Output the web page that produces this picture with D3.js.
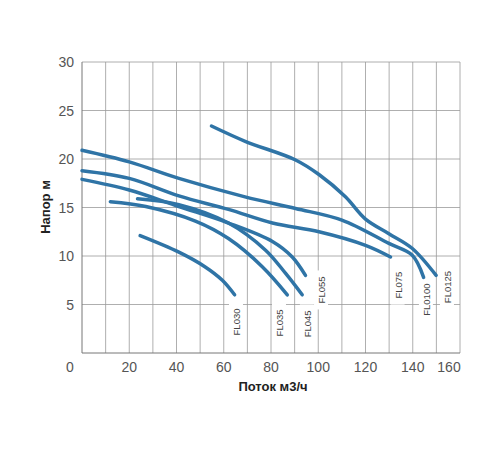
<!DOCTYPE html>
<html><head><meta charset="utf-8">
<script src="https://cdn.jsdelivr.net/npm/d3@7"></script>
<style>body{margin:0;background:#fff}</style></head>
<body><div id="chart"></div>
<script>
// pump curves (flow m3/h, head m)
const names = ["FL030", "FL035", "FL045", "FL055", "FL075", "FL0100", "FL0125"];
const fl030 = [[24.6,12.1],[41,10.4],[52,8.9],[59.4,7.5],[64.6,6.0]];
const fl035 = [[12,15.6],[27,15.1],[48,13.6],[62,11.8],[76.3,8.9],[86.9,6.0]];
const fl045 = [[23.5,15.9],[41,15.3],[62,13.4],[77.7,10.6],[86.2,8.2],[93.2,6.0]];
const fl055 = [[0,17.9],[20,16.8],[41,15.1],[62,13.4],[80.6,11.5],[89,9.9],[94.6,8.0]];
const fl075 = [[0,18.8],[20,18.0],[41,16.2],[62,14.8],[80.6,13.4],[100.3,12.5],[120,11.1],[130.6,9.9]];
const fl100 = [[0,20.9],[20,19.7],[41,18.0],[69,16.1],[90.4,14.9],[110,13.7],[129.9,11.3],[139.7,10.1],[144.6,7.8]];
const fl125 = [[54.8,23.4],[69.3,21.8],[90.4,19.9],[100.3,18.4],[111.5,16.1],[120,13.8],[129.9,12.3],[139.7,10.8],[149.9,8.0]];
const series = [fl030, fl035, fl045, fl055, fl075, fl100, fl125];
// label anchor positions in data units
const labelPos = [[65.6,3.2],[83.8,3.1],[95.6,3.0],[101.6,6.5],[134,7],[146,5.5],[154.9,6.8]];
const xTicks = [0,20,40,60,80,100,120,140,160];
const yTicks = [5,10,15,20,25,30];

const W = 500, H = 450;
const x = d3.scaleLinear().domain([0,160]).range([82,460]);
const y = d3.scaleLinear().domain([0,30]).range([353,62]);
const svg = d3.select("#chart").append("svg").attr("width",W).attr("height",H);

// grid
svg.append("g").selectAll("line").data(d3.range(10,161,10)).join("line")
  .attr("x1",d=>x(d)).attr("x2",d=>x(d)).attr("y1",y(30)).attr("y2",y(0))
  .attr("stroke","#9a9a9a").attr("stroke-width",0.8);
svg.append("g").selectAll("line").data(yTicks).join("line")
  .attr("x1",x(0)).attr("x2",x(160)).attr("y1",d=>y(d)).attr("y2",d=>y(d))
  .attr("stroke","#9a9a9a").attr("stroke-width",0.8);
svg.append("line").attr("x1",x(0)).attr("x2",x(0)).attr("y1",y(30)).attr("y2",y(0)).attr("stroke","#777");
svg.append("line").attr("x1",x(0)).attr("x2",x(160)).attr("y1",y(0)).attr("y2",y(0)).attr("stroke","#777");

// tick labels
svg.append("g").selectAll("text").data(xTicks).join("text")
  .attr("x",d=>d===0?x(0)-12:(d===160?x(d)-11:x(d))).attr("y",372).attr("text-anchor","middle")
  .attr("font-family","Arial, Liberation Sans").attr("font-size",14).attr("fill","#555").text(d=>d);
svg.append("g").selectAll("text").data(yTicks).join("text")
  .attr("x",74).attr("y",d=>y(d)+5).attr("text-anchor","end")
  .attr("font-family","Arial, Liberation Sans").attr("font-size",14).attr("fill","#555").text(d=>d);

// label backgrounds then labels
const lbl = svg.append("g");
names.forEach((n,i)=>{
  const [lx,ly] = labelPos[i];
  const g = lbl.append("g").attr("transform",`translate(${x(lx)},${y(ly)}) rotate(-90)`);
  const w = n.length*6.2+8;
  g.append("rect").attr("x",-w/2).attr("y",-8).attr("width",w).attr("height",14).attr("fill","#fff");
  g.append("text").attr("text-anchor","middle").attr("y",3)
    .attr("font-family","Arial, Liberation Sans").attr("font-size",9.5).attr("fill","#444").text(n);
});

// curves
const line = d3.line().x(d=>x(d[0])).y(d=>y(d[1])).curve(d3.curveCatmullRom);
svg.append("g").selectAll("path").data(series).join("path")
  .attr("d",line).attr("fill","none").attr("stroke","#2f74a6")
  .attr("stroke-width",3.5).attr("stroke-linecap","round");

// axis titles
svg.append("text").attr("x",273).attr("y",391).attr("text-anchor","middle")
  .attr("font-family","Arial, Liberation Sans").attr("font-weight","bold").attr("font-size",13).attr("fill","#222").text("Поток м3/ч");
svg.append("text").attr("transform","translate(50,207) rotate(-90)").attr("text-anchor","middle")
  .attr("font-family","Arial, Liberation Sans").attr("font-weight","bold").attr("font-size",13).attr("fill","#222").text("Напор м");
</script></body></html>
